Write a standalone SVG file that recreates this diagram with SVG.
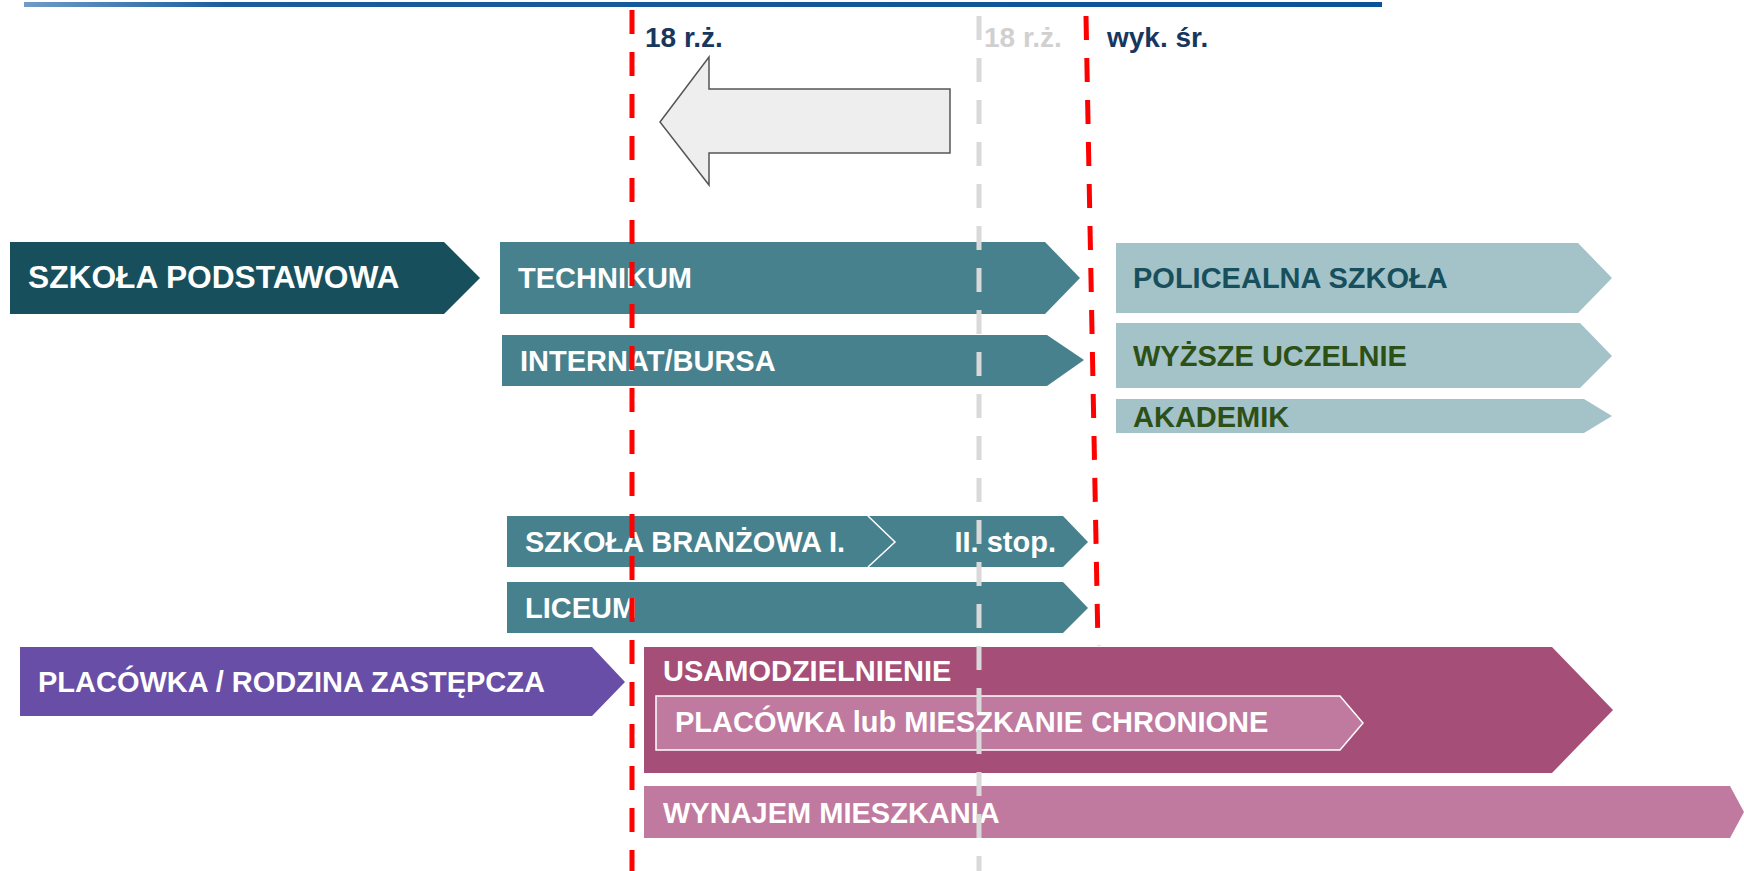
<svg xmlns="http://www.w3.org/2000/svg" width="1744" height="871" viewBox="0 0 1744 871">
<defs>
<linearGradient id="topg" x1="0" y1="0" x2="1" y2="0">
<stop offset="0" stop-color="#6f9cc8"/>
<stop offset="0.15" stop-color="#1a5c9e"/>
<stop offset="1" stop-color="#0c5297"/>
</linearGradient>
<style>
text{font-family:"Liberation Sans",Arial,sans-serif;font-weight:bold;}
.w{fill:#ffffff;}
.dark{fill:#174f5c;}
.mid{fill:#47818d;}
.light{fill:#a3c3c8;}
.purple{fill:#684ea6;}
.mag{fill:#a44e78;}
.pink{fill:#c07aa0;}
.red{stroke:#ff0000;stroke-width:5;stroke-dasharray:24 18;fill:none;}
.gray{stroke:#d9d9d9;stroke-width:5;stroke-dasharray:24 18;fill:none;}
.navy{fill:#17375e;}
</style>
</defs>
<rect x="0" y="0" width="1744" height="871" fill="#ffffff"/>
<rect x="24" y="2" width="1358" height="5" fill="url(#topg)"/>

<g id="labels">
<text x="645" y="47" font-size="28" class="navy">18 r.ż.</text>
<text x="984" y="47" font-size="28" fill="#d0d0d0">18 r.ż.</text>
<text x="1107" y="47" font-size="28" class="navy">wyk. śr.</text>
</g>

<g id="szkola-podstawowa">
<polygon class="dark" points="10,242 444,242 480,278 444,314 10,314"/>
<text x="28" y="288" font-size="31.7" class="w">SZKOŁA PODSTAWOWA</text>
</g>
<g id="technikum">
<polygon class="mid" points="500,242 1045,242 1080,278 1045,314 500,314"/>
<text x="518" y="288" font-size="29" class="w">TECHNIKUM</text>
</g>
<g id="internat">
<polygon class="mid" points="502,335 1047,335 1084,360 1047,386 502,386"/>
<text x="520" y="371" font-size="29" class="w">INTERNAT/BURSA</text>
</g>
<g id="policealna">
<polygon class="light" points="1116,243 1578,243 1612,278 1578,313 1116,313"/>
<text x="1133" y="288" font-size="29" class="dark">POLICEALNA SZKOŁA</text>
</g>
<g id="wyzsze">
<polygon class="light" points="1116,323 1580,323 1612,356 1580,388 1116,388"/>
<text x="1133" y="366" font-size="29" fill="#2d5016">WYŻSZE UCZELNIE</text>
</g>
<g id="akademik">
<polygon class="light" points="1116,399 1584,399 1612,416 1584,433 1116,433"/>
<text x="1133" y="427" font-size="29" fill="#2d5016">AKADEMIK</text>
</g>
<g id="branzowa">
<polygon class="mid" points="507,516 1063,516 1088,542 1063,567 507,567"/>
<polyline points="868,516 895,542 868,567" fill="none" stroke="#ffffff" stroke-width="1.5"/>
<text x="525" y="552" font-size="29" class="w">SZKOŁA BRANŻOWA I.</text>
<text x="1056" y="552" font-size="29" class="w" text-anchor="end">II. stop.</text>
</g>
<g id="liceum">
<polygon class="mid" points="507,582 1063,582 1088,608 1063,633 507,633"/>
<text x="525" y="618" font-size="29" class="w">LICEUM</text>
</g>
<g id="placowka-rodzina">
<polygon class="purple" points="20,647 592,647 625,682 592,716 20,716"/>
<text x="38" y="692" font-size="29" class="w">PLACÓWKA / RODZINA ZASTĘPCZA</text>
</g>
<g id="usamodzielnienie">
<polygon class="mag" points="644,647 1552,647 1613,710 1552,773 644,773"/>
<text x="663" y="681" font-size="29" class="w">USAMODZIELNIENIE</text>
</g>
<g id="chronione">
<polygon class="pink" points="656,696 1340,696 1363,723 1340,750 656,750" stroke="#ffffff" stroke-width="1.5"/>
<text x="675" y="732" font-size="29" class="w">PLACÓWKA lub MIESZKANIE CHRONIONE</text>
</g>
<g id="wynajem">
<polygon class="pink" points="644,786 1730,786 1744,812 1730,838 644,838"/>
<text x="663" y="823" font-size="29" class="w">WYNAJEM MIESZKANIA</text>
</g>

<g id="connectors">
<polygon points="660,122 709,57 709,89 950,89 950,153 709,153 709,185" fill="#eeeeee" stroke="#555555" stroke-width="1.5"/>
<line class="gray" x1="979" y1="16" x2="979" y2="871"/>
<line class="red" x1="632" y1="10" x2="632" y2="871"/>
<line class="red" x1="1086" y1="16" x2="1098" y2="646"/>
</g>
</svg>
